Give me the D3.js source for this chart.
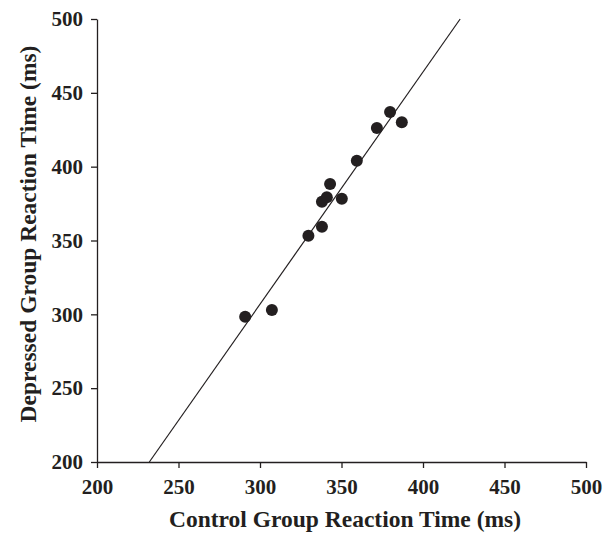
<!DOCTYPE html>
<html>
<head>
<meta charset="utf-8">
<script src="https://cdn.jsdelivr.net/npm/d3@7"></script>
<style>
  body { margin: 0; background: #fff; }
  text { font-family: "Liberation Serif", "Times New Roman", serif; font-weight: bold; fill: #231f20; }
</style>
</head>
<body>
<div id="chart"></div>
<script>
// control vs depressed reaction times (ms), one dot per condition
const controlRT   = [290.9, 307.3, 329.7, 338.0, 338.0, 341.0, 343.0, 350.2, 359.4, 371.7, 379.8, 387.0];
const depressedRT = [298.4, 302.9, 353.2, 359.3, 376.3, 379.3, 388.3, 378.3, 404.0, 426.2, 437.0, 430.0];

// fitted line end points
const fitX = [232.1, 422.8];
const fitY = [200, 500];

const xTicks = [200, 250, 300, 350, 400, 450, 500];
const yTicks = [200, 250, 300, 350, 400, 450, 500];

const margin = {top: 19, right: 27, bottom: 72, left: 97};
const W = 613, H = 534;
const width = W - margin.left - margin.right;
const height = H - margin.top - margin.bottom;

const svg = d3.select("#chart").append("svg")
    .attr("width", W)
    .attr("height", H);

const plot = svg.append("g")
    .attr("transform", `translate(${margin.left},${margin.top})`);

const x = d3.scaleLinear().domain([200, 500]).range([0, width]);
const y = d3.scaleLinear().domain([200, 500]).range([height, 0]);

const xAxis = plot.append("g")
    .attr("transform", `translate(0,${height})`)
    .call(d3.axisBottom(x).tickValues(xTicks).tickSize(6).tickPadding(11).tickSizeOuter(0));

const yAxis = plot.append("g")
    .call(d3.axisLeft(y).tickValues(yTicks).tickSize(6).tickPadding(8).tickSizeOuter(0));

[xAxis, yAxis].forEach(a => {
    a.selectAll("path, line").attr("stroke", "#231f20").attr("stroke-width", 1.3);
    a.selectAll("text").style("font-size", "21px").attr("fill", "#231f20");
});

// regression line
plot.append("line")
    .attr("x1", x(fitX[0])).attr("y1", y(fitY[0]))
    .attr("x2", x(fitX[1])).attr("y2", y(fitY[1]))
    .attr("stroke", "#231f20")
    .attr("stroke-width", 1.2);

plot.selectAll("circle")
    .data(controlRT.map((c, i) => [c, depressedRT[i]]))
    .join("circle")
    .attr("cx", d => x(d[0]))
    .attr("cy", d => y(d[1]))
    .attr("r", 6)
    .attr("fill", "#231f20");

svg.append("text")
    .attr("x", 345)
    .attr("y", 527)
    .attr("text-anchor", "middle")
    .style("font-size", "23.5px")
    .text("Control Group Reaction Time (ms)");

svg.append("text")
    .attr("transform", "translate(36,234) rotate(-90)")
    .attr("text-anchor", "middle")
    .style("font-size", "23.5px")
    .text("Depressed Group Reaction Time (ms)");
</script>
</body>
</html>
